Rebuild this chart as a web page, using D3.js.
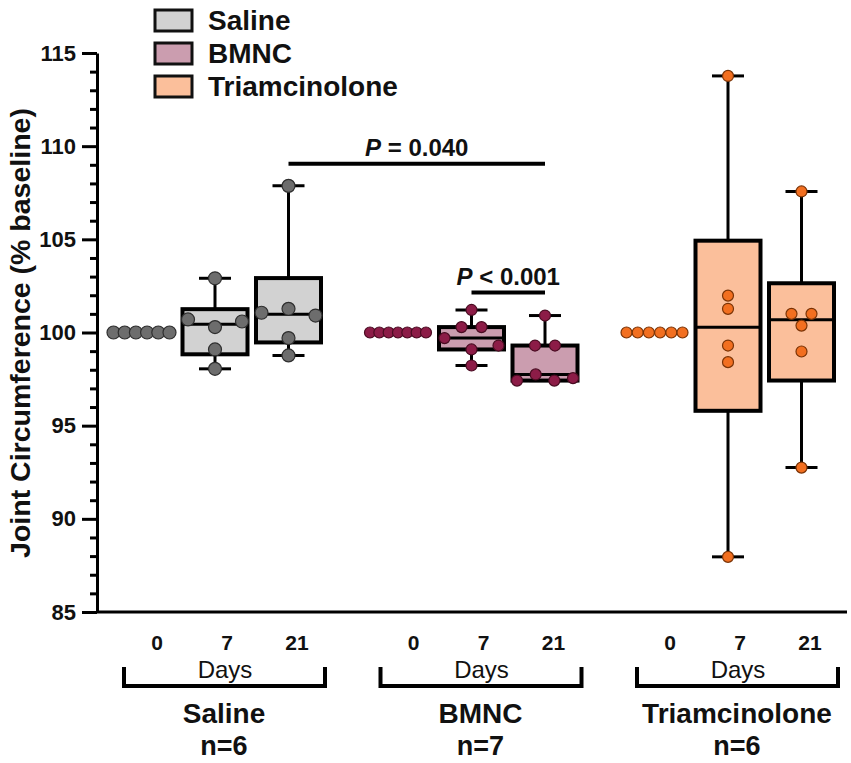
<!DOCTYPE html>
<html>
<head>
<meta charset="utf-8">
<script src="https://cdn.jsdelivr.net/npm/d3@7"></script>
<style>
  body { margin: 0; background: #fff; }
  text { font-family: "Liberation Sans", Arial, sans-serif; }
</style>
</head>
<body>
<svg id="chart" width="851" height="763"></svg>
<script>
// groups and time points
var groups = ["Saline", "BMNC", "Triamcinolone"];
var groupN = ["n=6", "n=7", "n=6"];
var days = ["0", "7", "21"];

// individual values (% baseline), in data-table order
var salineValues = [
    [100, 100, 100, 100, 100, 100],
    [102.91, 100.70, 100.29, 100.59, 99.09, 98.05],
    [107.87, 101.06, 101.27, 100.91, 99.70, 98.77]
];
var bmncValues = [
    [100, 100, 100, 100, 100, 100, 100],
    [101.21, 100.29, 100.29, 99.70, 99.09, 99.30, 98.23],
    [100.91, 99.30, 99.30, 97.42, 97.75, 97.42, 97.55]
];
var triamValues = [
    [100, 100, 100, 100, 100, 100],
    [113.77, 101.98, 101.27, 99.30, 98.41, 87.96],
    [107.57, 101.00, 101.00, 100.37, 98.98, 92.75]
];
var allValues = [salineValues, bmncValues, triamValues];

var yTicks = [85, 90, 95, 100, 105, 110, 115];

// significance bars: [group, day] to [group, day] at value level
var comparisons = [
    { from: [0, 2], to: [1, 2], level: 109.05, label: " = 0.040" },
    { from: [1, 1], to: [1, 2], level: 102.14, label: " < 0.001" }
];

var boxFill = ["#d2d2d2", "#cb9daf", "#fbbf9b"];
var dotFill = ["#6d6d6d", "#8c1c47", "#f26f20"];
var dotStroke = ["#2e2e2e", "#4a0c22", "#7a3306"];
var dotR = [6.5, 5.5, 5.5];

var svg = d3.select("#chart");

var y = d3.scaleLinear().domain([85, 115]).range([612, 53]);
var gx = d3.scalePoint().domain(groups).range([215, 728]);
var dx = d3.scalePoint().domain(days).range([-73.5, 73.5]);
var lx = d3.scalePoint().domain(days).range([-70, 70]);
function colX(gi, di) { return gx(groups[gi]) + dx(days[di]); }
function labX(gi, di) { return gx(groups[gi]) + 12 + lx(days[di]); }

// quartiles the way Prism does it: position (n+1)p
function quart(sorted, p) {
    var n = sorted.length;
    var pos = (n + 1) * p;
    if (pos <= 1) return sorted[0];
    if (pos >= n) return sorted[n - 1];
    var lo = Math.floor(pos);
    var f = pos - lo;
    return sorted[lo - 1] + f * (sorted[lo] - sorted[lo - 1]);
}

// spread overlapping points sideways
function spread(vals, r) {
    var idx = vals.map(function (v, i) { return i; });
    idx.sort(function (a, b) { return vals[a] - vals[b]; });
    var clusters = [];
    var cur = [idx[0]];
    for (var k = 1; k < idx.length; k++) {
        var dy = Math.abs(y(vals[idx[k]]) - y(vals[idx[k - 1]]));
        if (dy < 2 * r * 0.95) cur.push(idx[k]);
        else { clusters.push(cur); cur = [idx[k]]; }
    }
    clusters.push(cur);
    var off = new Array(vals.length).fill(0);
    clusters.forEach(function (c) {
        var m = c.length;
        if (m === 1) return;
        c.sort(function (a, b) { return a - b; });
        var step = m === 2 ? 20 : Math.min(27, 56 / (m - 1));
        c.forEach(function (pi, j) { off[pi] = (j - (m - 1) / 2) * step; });
    });
    return off;
}

// y axis
var yAxis = d3.axisLeft(y).tickValues(yTicks).tickSize(15).tickSizeOuter(0).tickPadding(6);
var gy = svg.append("g").attr("transform", "translate(97,0)").call(yAxis);
gy.selectAll("path, line").attr("stroke", "#000").attr("stroke-width", 3);
gy.selectAll("text").attr("font-size", 22).attr("font-weight", "bold").attr("fill", "#111")
    .attr("font-family", "'Liberation Sans', Arial, sans-serif");

var minor = d3.range(86, 115).filter(function (v) { return v % 5 !== 0; });
var gyMinor = svg.append("g").attr("transform", "translate(97,0)")
    .call(d3.axisLeft(y).tickValues(minor).tickSize(7).tickSizeOuter(0).tickFormat(""));
gyMinor.select(".domain").remove();
gyMinor.selectAll("line").attr("stroke", "#000").attr("stroke-width", 3);

// x baseline
svg.append("line")
    .attr("x1", 96).attr("x2", 847)
    .attr("y1", y(85)).attr("y2", y(85))
    .attr("stroke", "#000").attr("stroke-width", 3);

svg.append("text")
    .attr("transform", "translate(30," + 333 + ") rotate(-90)")
    .attr("text-anchor", "middle")
    .attr("font-size", 28.5).attr("font-weight", "bold").attr("fill", "#111")
    .text("Joint Circumference (% baseline)");

// boxes
var halfW = 32.5, capW = 16;
allValues.forEach(function (groupVals, gi) {
    groupVals.forEach(function (vals, di) {
        var cx = colX(gi, di);
        var s = vals.slice().sort(d3.ascending);
        var q1 = quart(s, 0.25), med = quart(s, 0.5), q3 = quart(s, 0.75);
        var lo = s[0], hi = s[s.length - 1];
        var g = svg.append("g");
        if (hi > lo) {
            g.append("line").attr("x1", cx).attr("x2", cx).attr("y1", y(hi)).attr("y2", y(lo))
                .attr("stroke", "#000").attr("stroke-width", 3);
            [lo, hi].forEach(function (v) {
                g.append("line").attr("x1", cx - capW).attr("x2", cx + capW)
                    .attr("y1", y(v)).attr("y2", y(v))
                    .attr("stroke", "#000").attr("stroke-width", 3);
            });
            g.append("rect")
                .attr("x", cx - halfW).attr("width", halfW * 2)
                .attr("y", y(q3)).attr("height", y(q1) - y(q3))
                .attr("fill", boxFill[gi]).attr("stroke", "#000").attr("stroke-width", 4);
            g.append("line").attr("x1", cx - halfW).attr("x2", cx + halfW)
                .attr("y1", y(med)).attr("y2", y(med))
                .attr("stroke", "#000").attr("stroke-width", 3);
        }
        var off = spread(vals, dotR[gi]);
        g.selectAll("circle").data(vals).enter().append("circle")
            .attr("cx", function (d, i) { return cx + off[i]; })
            .attr("cy", function (d) { return y(d); })
            .attr("r", dotR[gi])
            .attr("fill", dotFill[gi]).attr("stroke", dotStroke[gi]).attr("stroke-width", 1.2);
    });
});

// significance bars
comparisons.forEach(function (c) {
    var x1 = colX(c.from[0], c.from[1]), x2 = colX(c.to[0], c.to[1]);
    var yy = y(c.level);
    svg.append("line").attr("x1", x1).attr("x2", x2).attr("y1", yy).attr("y2", yy)
        .attr("stroke", "#000").attr("stroke-width", 4);
    var t = svg.append("text").attr("x", (x1 + x2) / 2).attr("y", yy - 8)
        .attr("text-anchor", "middle").attr("font-size", 24).attr("font-weight", "bold").attr("fill", "#111");
    t.append("tspan").attr("font-style", "italic").text("P");
    t.append("tspan").text(c.label);
});

// bottom labels
groups.forEach(function (gName, gi) {
    days.forEach(function (d, di) {
        svg.append("text").attr("x", labX(gi, di)).attr("y", 650)
            .attr("text-anchor", "middle").attr("font-size", 21).attr("font-weight", "bold")
            .attr("fill", "#111").text(d);
    });
    var mid = labX(gi, 1);
    svg.append("text").attr("x", mid - 2).attr("y", 678)
        .attr("text-anchor", "middle").attr("font-size", 24).attr("fill", "#111").text("Days");
    var bx1 = labX(gi, 0) - 33, bx2 = labX(gi, 2) + 28;
    svg.append("path")
        .attr("d", "M" + bx1 + ",667 V686 H" + bx2 + " V667")
        .attr("fill", "none").attr("stroke", "#000").attr("stroke-width", 4);
    svg.append("text").attr("x", mid - 3).attr("y", 723)
        .attr("text-anchor", "middle").attr("font-size", 28).attr("font-weight", "bold")
        .attr("fill", "#111").text(gName);
    svg.append("text").attr("x", mid - 3).attr("y", 755)
        .attr("text-anchor", "middle").attr("font-size", 27).attr("font-weight", "bold")
        .attr("fill", "#111").text(groupN[gi]);
});

// legend
var legend = svg.append("g").attr("transform", "translate(155,10)");
groups.forEach(function (gName, gi) {
    var ly = gi * 33;
    legend.append("rect").attr("x", 0).attr("y", ly).attr("width", 37).attr("height", 21)
        .attr("fill", boxFill[gi]).attr("stroke", "#111").attr("stroke-width", 3);
    legend.append("text").attr("x", 53).attr("y", ly + 20)
        .attr("font-size", 28).attr("font-weight", "bold").attr("fill", "#111").text(gName);
});
</script>
</body>
</html>
